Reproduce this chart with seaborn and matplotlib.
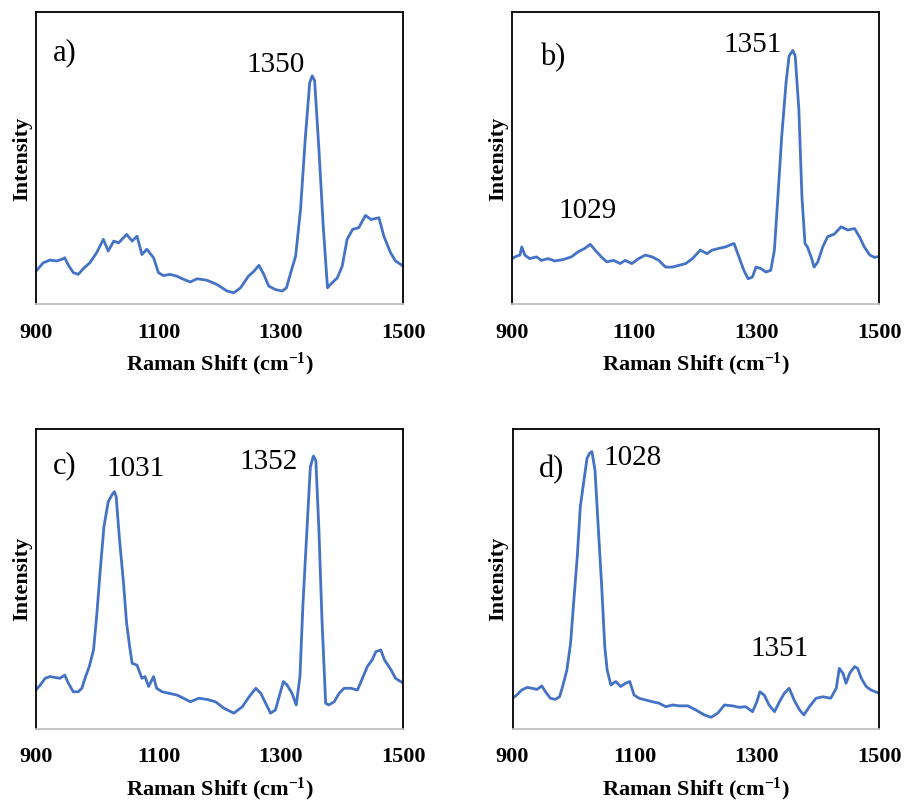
import numpy as np
import pandas as pd
import seaborn as sb
from matplotlib import pyplot as plt

'''
Raman spectra (900-1500 cm-1) of four samples, 2x2 panels.
'''

# panel a)
shift_a = [900, 912, 923, 934, 945, 947, 953, 961, 969, 977, 988, 999, 1010, 1018, 1027, 1035,
           1048, 1057, 1065, 1073, 1081, 1092, 1100, 1108, 1119, 1130, 1141, 1152, 1163, 1179,
           1195, 1212, 1223, 1234, 1247, 1256, 1264, 1272, 1280, 1291, 1302, 1309, 1316, 1324,
           1332, 1340, 1347, 1351, 1355, 1362, 1369, 1376, 1381, 1392, 1400, 1408, 1417, 1427,
           1438, 1447, 1460, 1468, 1479, 1487, 1500]
int_a = [11.4, 14.3, 15.2, 14.9, 15.7, 16.0, 13.4, 10.9, 10.3, 12.2, 14.3, 17.7, 22.3, 18.3, 21.7, 21.1,
         24.0, 21.7, 23.4, 17.1, 18.9, 16.0, 10.9, 9.9, 10.3, 9.7, 8.6, 7.7, 8.8, 8.3,
         6.9, 4.6, 4.0, 5.7, 9.7, 11.4, 13.4, 10.3, 6.3, 5.1, 4.6, 5.7, 10.9, 16.6,
         32.6, 57.7, 76.0, 78.3, 76.6, 53.1, 26.9, 5.7, 6.9, 9.1, 13.1, 22.3, 25.7, 26.3,
         30.5, 29.1, 29.7, 23.4, 17.7, 14.9, 13.1]

# panel b)
shift_b = [900, 907, 913, 916, 921, 929, 940, 948, 959, 970, 984, 997, 1008, 1019, 1028, 1036,
           1047, 1055, 1066, 1077, 1085, 1096, 1107, 1118, 1129, 1140, 1151, 1162, 1173, 1184,
           1195, 1208, 1219, 1227, 1238, 1249, 1263, 1271, 1279, 1286, 1293, 1299, 1307, 1315,
           1323, 1329, 1334, 1341, 1348, 1353, 1359, 1363, 1369, 1374, 1379, 1383, 1389, 1394,
           1400, 1408, 1416, 1427, 1438, 1449, 1460, 1468, 1476, 1485, 1493, 1500]
int_b = [15.7, 16.5, 16.9, 19.7, 16.9, 15.7, 16.3, 15.1, 15.7, 14.9, 15.4, 16.3, 18.0, 19.2, 20.6, 18.6,
         16.1, 14.6, 15.1, 14.0, 15.1, 14.0, 15.7, 16.9, 16.3, 15.1, 12.8, 12.8, 13.4, 14.0,
         15.7, 18.6, 17.4, 18.6, 19.2, 19.7, 20.9, 16.3, 11.7, 8.8, 9.4, 12.8, 12.3, 11.1,
         11.7, 18.6, 34.6, 57.6, 75.9, 85.1, 87.0, 85.1, 66.7, 36.9, 20.9, 19.7, 16.3, 12.8,
         14.6, 19.7, 23.2, 24.1, 26.6, 25.5, 26.0, 23.2, 19.7, 16.9, 16.1, 16.5]

# panel c)
shift_c = [900, 907, 915, 923, 931, 939, 947, 953, 961, 969, 975, 980, 987, 994, 999, 1005,
           1011, 1018, 1024, 1028, 1031, 1036, 1043, 1048, 1053, 1057, 1065, 1073, 1078, 1084,
           1092, 1097, 1106, 1117, 1130, 1141, 1152, 1166, 1179, 1193, 1207, 1223, 1237, 1248,
           1259, 1267, 1275, 1283, 1291, 1297, 1304, 1310, 1318, 1325, 1331, 1336, 1343, 1348,
           1353, 1357, 1362, 1367, 1373, 1378, 1387, 1395, 1403, 1414, 1425, 1433, 1441, 1449,
           1455, 1463, 1469, 1480, 1487, 1500]
int_c = [12.5, 14.2, 16.5, 17.1, 16.8, 16.5, 17.6, 14.8, 11.9, 11.9, 13.1, 16.5, 20.5, 26.2, 37.5, 53.5,
         68.3, 76.8, 79.1, 80.2, 78.5, 64.8, 48.9, 35.3, 27.3, 21.6, 21.0, 16.5, 17.1, 13.7,
         17.1, 13.1, 11.9, 11.4, 10.8, 9.7, 8.5, 9.7, 9.3, 8.5, 6.3, 4.6, 6.8, 10.2,
         13.1, 11.4, 8.0, 4.6, 5.7, 10.2, 15.4, 14.2, 11.4, 7.4, 17.1, 42.1, 69.4, 88.7,
         92.4, 90.8, 67.1, 36.4, 8.0, 7.4, 8.5, 11.4, 13.1, 13.1, 12.5, 16.5, 20.5, 22.8,
         25.6, 26.2, 22.8, 19.3, 16.5, 14.8]

# panel d)
shift_d = [900, 907, 915, 924, 932, 940, 948, 954, 962, 970, 977, 982, 989, 995, 1000, 1006,
           1011, 1017, 1022, 1026, 1030, 1035, 1040, 1046, 1051, 1055, 1061, 1069, 1077, 1085,
           1092, 1099, 1107, 1118, 1129, 1140, 1151, 1162, 1173, 1187, 1200, 1214, 1225, 1236,
           1247, 1260, 1271, 1282, 1293, 1300, 1305, 1312, 1320, 1329, 1337, 1345, 1353, 1361,
           1370, 1377, 1386, 1397, 1408, 1421, 1430, 1435, 1441, 1446, 1452, 1460, 1465, 1471,
           1479, 1487, 1500]
int_d = [9.7, 10.8, 12.5, 13.4, 13.1, 12.7, 13.9, 11.9, 9.7, 9.3, 10.2, 13.7, 19.3, 28.4, 42.1, 58.0,
         75.1, 84.2, 91.6, 93.3, 93.9, 87.6, 69.4, 47.8, 27.3, 19.3, 14.2, 15.4, 13.7, 14.8,
         15.4, 10.8, 9.7, 9.1, 8.5, 8.0, 6.8, 7.4, 7.1, 7.1, 5.7, 4.0, 3.2, 4.6,
         7.4, 7.1, 6.6, 6.8, 5.1, 8.5, 11.9, 10.8, 7.4, 5.1, 8.5, 11.4, 13.1, 9.1,
         5.7, 4.0, 6.8, 9.7, 10.2, 9.7, 13.1, 19.9, 18.2, 14.8, 18.2, 20.5, 19.9, 16.5,
         13.7, 12.5, 11.4]

panel_tags = ['a)', 'b)', 'c)', 'd)']
peak_labels = [['1350'], ['1351', '1029'], ['1031', '1352'], ['1028', '1351']]
x_ticks = [900, 1100, 1300, 1500]


def spectrum_panel(ax, shift, inten, tag, labels, tag_pos, label_pos, ylim):
    df = pd.DataFrame({'shift': shift, 'intensity': inten})
    sb.lineplot(ax=ax, data=df, x='shift', y='intensity', color='#4472C4', linewidth=2)
    ax.set_xlim(900, 1500)
    ax.set_ylim(*ylim)
    ax.set_xticks(x_ticks)
    ax.set_yticks([])
    ax.tick_params(axis='x', direction='out', length=6, width=1.2, color='#BFBFBF', pad=7,
                   labelsize=16, labelcolor='black')
    for lab in ax.get_xticklabels():
        lab.set_fontweight('bold')
    for side in ['left', 'top', 'right']:
        ax.spines[side].set_color('black')
        ax.spines[side].set_linewidth(1.3)
    ax.spines['bottom'].set_color('#BFBFBF')
    ax.spines['bottom'].set_linewidth(1.3)
    ax.set_xlabel(r'Raman Shift (cm$\mathregular{^{-1}}$)', fontsize=16, fontweight='bold',
                  labelpad=6, color='black')
    ax.set_ylabel('Intensity', fontsize=16, fontweight='bold', labelpad=3, color='black')
    ax.text(tag_pos[0], tag_pos[1], tag, transform=ax.transAxes, fontsize=22, ha='left',
            va='baseline', color='black')
    for txt, pos in zip(labels, label_pos):
        ax.text(pos[0], pos[1], txt, transform=ax.transAxes, fontsize=21, ha='center',
                va='baseline', color='black')


if __name__ == "__main__":
    sb.set_style('white')
    plt.rcParams['font.family'] = ['Liberation Serif', 'DejaVu Serif']
    plt.rcParams['mathtext.fontset'] = 'custom'
    plt.rcParams['mathtext.rm'] = 'Liberation Serif:bold'
    plt.rcParams['text.color'] = 'black'

    fig = plt.figure(figsize=(9.06, 8.01), dpi=100)
    ax_a = fig.add_axes([0.0397, 0.6199, 0.4056, 0.3645])
    ax_b = fig.add_axes([0.5651, 0.6199, 0.4051, 0.3645])
    ax_c = fig.add_axes([0.0397, 0.0899, 0.4056, 0.3745])
    ax_d = fig.add_axes([0.5657, 0.0899, 0.4045, 0.3745])

    spectrum_panel(ax_a, shift_a, int_a, panel_tags[0], peak_labels[0],
                   (0.046, 0.837), [(0.653, 0.797)], (0, 100))
    spectrum_panel(ax_b, shift_b, int_b, panel_tags[1], peak_labels[1],
                   (0.076, 0.82), [(0.657, 0.866), (0.207, 0.296)], (0, 100))
    spectrum_panel(ax_c, shift_c, int_c, panel_tags[2], peak_labels[2],
                   (0.046, 0.853), [(0.272, 0.843), (0.632, 0.867)], (-0.8, 101.6))
    spectrum_panel(ax_d, shift_d, int_d, panel_tags[3], peak_labels[3],
                   (0.071, 0.84), [(0.327, 0.88), (0.73, 0.243)], (-0.8, 101.6))

    fig.savefig('out.png', dpi=100)
